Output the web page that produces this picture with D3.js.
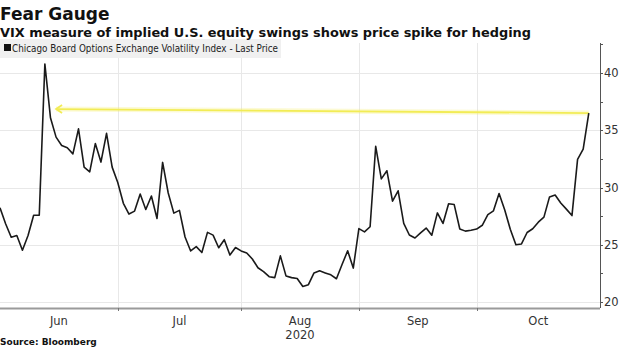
<!DOCTYPE html>
<html>
<head>
<meta charset="utf-8">
<script src="https://cdn.jsdelivr.net/npm/d3@7"></script>
<style>
body { margin: 0; background: #fff; }
svg { display: block; }
</style>
</head>
<body>
<div id="chart"></div>
<script>

// trading days shown on the chart, Jun 1 - Oct 28 2020
var dates = [
	"2020-06-01","2020-06-02","2020-06-03","2020-06-04","2020-06-05",
	"2020-06-08","2020-06-09","2020-06-10","2020-06-11","2020-06-12",
	"2020-06-15","2020-06-16","2020-06-17","2020-06-18","2020-06-19",
	"2020-06-22","2020-06-23","2020-06-24","2020-06-25","2020-06-26",
	"2020-06-29","2020-06-30",
	"2020-07-01","2020-07-02",
	"2020-07-06","2020-07-07","2020-07-08","2020-07-09","2020-07-10",
	"2020-07-13","2020-07-14","2020-07-15","2020-07-16","2020-07-17",
	"2020-07-20","2020-07-21","2020-07-22","2020-07-23","2020-07-24",
	"2020-07-27","2020-07-28","2020-07-29","2020-07-30","2020-07-31",
	"2020-08-03","2020-08-04","2020-08-05","2020-08-06","2020-08-07",
	"2020-08-10","2020-08-11","2020-08-12","2020-08-13","2020-08-14",
	"2020-08-17","2020-08-18","2020-08-19","2020-08-20","2020-08-21",
	"2020-08-24","2020-08-25","2020-08-26","2020-08-27","2020-08-28",
	"2020-08-31",
	"2020-09-01","2020-09-02","2020-09-03","2020-09-04",
	"2020-09-08","2020-09-09","2020-09-10","2020-09-11",
	"2020-09-14","2020-09-15","2020-09-16","2020-09-17","2020-09-18",
	"2020-09-21","2020-09-22","2020-09-23","2020-09-24","2020-09-25",
	"2020-09-28","2020-09-29","2020-09-30",
	"2020-10-01","2020-10-02",
	"2020-10-05","2020-10-06","2020-10-07","2020-10-08","2020-10-09",
	"2020-10-12","2020-10-13","2020-10-14","2020-10-15","2020-10-16",
	"2020-10-19","2020-10-20","2020-10-21","2020-10-22","2020-10-23",
	"2020-10-26","2020-10-27","2020-10-28"
];

// VIX last price
var vix = [
	28.23, 26.84, 25.66, 25.81, 24.52,
	25.81, 27.57, 27.57, 40.79, 36.09,
	34.40, 33.67, 33.47, 32.94, 35.12,
	31.77, 31.37, 33.84, 32.22, 34.73,
	31.78, 30.43,
	28.62, 27.68,
	27.94, 29.43, 28.08, 29.26, 27.29,
	32.19, 29.52, 27.76, 28.00, 25.68,
	24.46, 24.84, 24.32, 26.08, 25.84,
	24.74, 25.44, 24.10, 24.76, 24.46,
	24.28, 23.76, 22.99, 22.65, 22.21,
	22.13, 24.03, 22.28, 22.13, 22.05,
	21.35, 21.51, 22.54, 22.72, 22.54,
	22.37, 22.03, 23.27, 24.47, 22.96,
	26.41,
	26.12, 26.57, 33.60, 30.75,
	31.46, 28.81, 29.71, 26.87,
	25.85, 25.59, 26.04, 26.46, 25.83,
	27.78, 26.86, 28.58, 28.51, 26.38,
	26.19, 26.27, 26.37,
	26.70, 27.63,
	27.96, 29.48, 28.06, 26.36, 25.00,
	25.07, 26.07, 26.40, 26.97, 27.41,
	29.18, 29.35, 28.65, 28.11, 27.55,
	32.46, 33.35, 36.50
];

var yTicks = [20, 25, 30, 35, 40];
var yMinorStep = 2.5;
var monthLabels = ["Jun", "Jul", "Aug", "Sep", "Oct"];
var yearLabel = "2020";
var yearMonth = "Aug";

// yellow arrow: from the last price back to the June spike
var arrowFrom = { i: 105, v: 36.5 };
var arrowTo = { i: 10, v: 36.85 };

var TITLE = "Fear Gauge",
	SUBTITLE = "VIX measure of implied U.S. equity swings shows price spike for hedging",
	LEGEND = "Chicago Board Options Exchange Volatility Index - Last Price",
	SOURCE = "Source: Bloomberg";

var width = 620,
	height = 348,
	PLOT_LEFT = 0,
	PLOT_RIGHT = 600,
	PLOT_TOP = 43,
	PLOT_BOTTOM = 308,
	GRID_COLOR = "#e8e8e8",
	AXIS_COLOR = "#9a9a9a",
	TEXT_COLOR = "#333",
	LINE_COLOR = "#1a1a1a",
	ARROW_COLOR = "#f2ec55";

var svg = d3.select("#chart").append("svg")
	.attr("width", width)
	.attr("height", height);

var parse = d3.timeParse("%Y-%m-%d");
var data = vix.map(function(v, i) {
	return { i: i, date: parse(dates[i]), v: v };
});

// x is by trading day, so weekends and holidays take no space
var x = d3.scaleLinear()
	.domain([0, 107])
	.range([PLOT_LEFT, PLOT_RIGHT]);

var y = d3.scaleLinear()
	.domain([20, 40])
	.range([302, 73]);

// month boundaries sit on the last trading day of each month
var boundaries = [];
data.forEach(function(d, i) {
	if (i < data.length - 1 && data[i + 1].date.getMonth() != d.date.getMonth()) {
		boundaries.push(i);
	}
});

var grid = svg.append("g").attr("id", "grid");

grid.selectAll(".hgrid")
	.data(yTicks)
	.enter()
	.append("line")
	.attr("x1", PLOT_LEFT)
	.attr("x2", PLOT_RIGHT)
	.attr("y1", function(d) { return Math.round(y(d)) + 0.5; })
	.attr("y2", function(d) { return Math.round(y(d)) + 0.5; })
	.style("stroke", GRID_COLOR)
	.style("stroke-width", 1);

grid.selectAll(".vgrid")
	.data(boundaries)
	.enter()
	.append("line")
	.attr("x1", function(d) { return Math.round(x(d)) + 0.5; })
	.attr("x2", function(d) { return Math.round(x(d)) + 0.5; })
	.attr("y1", PLOT_TOP)
	.attr("y2", PLOT_BOTTOM)
	.style("stroke", GRID_COLOR)
	.style("stroke-width", 1);

// legend box
var legend = svg.append("g").attr("id", "legend");
legend.append("rect")
	.attr("x", 0)
	.attr("y", 39)
	.attr("width", 281)
	.attr("height", 19)
	.style("fill", "#f0f0f0");
legend.append("rect")
	.attr("x", 4)
	.attr("y", 44)
	.attr("width", 7)
	.attr("height", 7)
	.style("fill", "#111");
legend.append("text")
	.attr("x", 12)
	.attr("y", 51.5)
	.text(LEGEND)
	.style("font-family", "'DejaVu Sans Condensed', 'DejaVu Sans'")
	.style("font-stretch", "condensed")
	.style("font-size", "9.8px")
	.style("fill", "#222");

// yellow arrow
var arrow = svg.append("g").attr("id", "arrow");
var ax1 = x(arrowFrom.i), ay1 = y(arrowFrom.v),
	ax2 = x(arrowTo.i), ay2 = y(arrowTo.v);
arrow.append("line")
	.attr("x1", ax1).attr("y1", ay1)
	.attr("x2", ax2).attr("y2", ay2)
	.style("stroke", ARROW_COLOR)
	.style("stroke-width", 5)
	.style("stroke-opacity", 0.25);
arrow.append("line")
	.attr("x1", ax1).attr("y1", ay1)
	.attr("x2", ax2).attr("y2", ay2)
	.style("stroke", ARROW_COLOR)
	.style("stroke-width", 1.8);
arrow.append("path")
	.attr("d", "M" + (ax2 + 6) + "," + (ay2 - 4) + "L" + ax2 + "," + ay2 + "L" + (ax2 + 6) + "," + (ay2 + 4))
	.style("fill", "none")
	.style("stroke", ARROW_COLOR)
	.style("stroke-width", 1.8);

// the price line
var line = d3.line()
	.x(function(d) { return x(d.i); })
	.y(function(d) { return y(d.v); });

svg.append("path")
	.datum(data)
	.attr("d", line)
	.style("fill", "none")
	.style("stroke", LINE_COLOR)
	.style("stroke-width", 1.6)
	.style("stroke-linejoin", "round");

// right axis with minor ticks every 2.5
var yAxis = svg.append("g").attr("id", "yaxis");
yAxis.append("line")
	.attr("x1", PLOT_RIGHT + 0.5).attr("x2", PLOT_RIGHT + 0.5)
	.attr("y1", PLOT_TOP).attr("y2", PLOT_BOTTOM)
	.style("stroke", "#555")
	.style("stroke-width", 1);

yAxis.selectAll(".ytick")
	.data(d3.range(20, 42.6, yMinorStep))
	.enter()
	.append("line")
	.attr("x1", PLOT_RIGHT)
	.attr("x2", PLOT_RIGHT + 3)
	.attr("y1", function(d) { return Math.round(y(d)) + 0.5; })
	.attr("y2", function(d) { return Math.round(y(d)) + 0.5; })
	.style("stroke", "#555");

yAxis.selectAll(".ylabel")
	.data(yTicks)
	.enter()
	.append("text")
	.attr("x", PLOT_RIGHT + 4)
	.attr("y", function(d) { return y(d) + 4; })
	.text(function(d) { return d; })
	.style("font-family", "'DejaVu Sans'")
	.style("font-size", "11.5px")
	.style("fill", TEXT_COLOR);

// bottom axis
var xAxis = svg.append("g").attr("id", "xaxis");
xAxis.append("line")
	.attr("x1", PLOT_LEFT).attr("x2", PLOT_RIGHT)
	.attr("y1", PLOT_BOTTOM + 0.5).attr("y2", PLOT_BOTTOM + 0.5)
	.style("stroke", AXIS_COLOR)
	.style("stroke-width", 2);

xAxis.selectAll(".xtick")
	.data(boundaries)
	.enter()
	.append("line")
	.attr("x1", function(d) { return Math.round(x(d)) + 0.5; })
	.attr("x2", function(d) { return Math.round(x(d)) + 0.5; })
	.attr("y1", PLOT_BOTTOM)
	.attr("y2", PLOT_BOTTOM + 3)
	.style("stroke", "#777");

var edges = [PLOT_LEFT].concat(boundaries.map(function(b) { return x(b); }), [PLOT_RIGHT]);

xAxis.selectAll(".xlabel")
	.data(monthLabels)
	.enter()
	.append("text")
	.attr("x", function(d, i) { return (edges[i] + edges[i + 1]) / 2; })
	.attr("y", 325)
	.text(function(d) { return d; })
	.style("font-family", "'DejaVu Sans'")
	.style("font-size", "11.5px")
	.style("fill", TEXT_COLOR)
	.style("text-anchor", "middle");

var yi = monthLabels.indexOf(yearMonth);
xAxis.append("text")
	.attr("x", (edges[yi] + edges[yi + 1]) / 2)
	.attr("y", 339)
	.text(yearLabel)
	.style("font-family", "'DejaVu Sans'")
	.style("font-size", "11.5px")
	.style("fill", TEXT_COLOR)
	.style("text-anchor", "middle");

// titles and source
svg.append("text")
	.attr("x", 0)
	.attr("y", 20)
	.text(TITLE)
	.style("font-family", "'DejaVu Sans'")
	.style("font-weight", "bold")
	.style("font-size", "17px")
	.style("fill", "#111");

svg.append("text")
	.attr("x", 0)
	.attr("y", 36.5)
	.text(SUBTITLE)
	.style("font-family", "'DejaVu Sans'")
	.style("font-weight", "bold")
	.style("font-size", "12.9px")
	.style("fill", "#111");

svg.append("text")
	.attr("x", 0)
	.attr("y", 345)
	.text(SOURCE)
	.style("font-family", "'DejaVu Sans'")
	.style("font-weight", "bold")
	.style("font-size", "9px")
	.style("fill", "#111");

</script>
</body>
</html>
